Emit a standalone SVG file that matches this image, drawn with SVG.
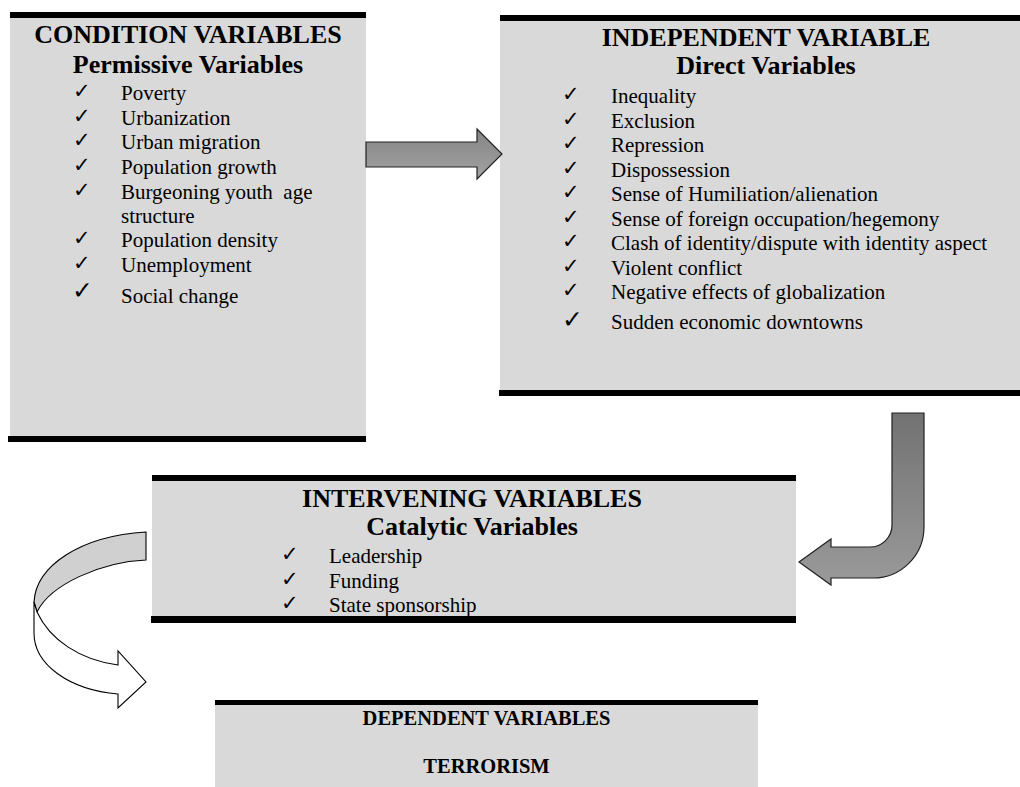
<svg xmlns="http://www.w3.org/2000/svg" width="1020" height="787" viewBox="0 0 1020 787">
<defs>
<style>
.box{fill:#d9d9d9}
.bar{fill:#000}
.t{font-family:"Liberation Serif","Times New Roman",serif;font-weight:bold;font-size:26px;fill:#000;text-anchor:middle}
.td{font-family:"Liberation Serif","Times New Roman",serif;font-weight:bold;font-size:20.5px;fill:#000;text-anchor:middle}
.i{font-family:"Liberation Serif","Times New Roman",serif;font-size:21px;fill:#000}
.ck{font-family:"DejaVu Sans",sans-serif;font-size:21px;fill:#000}
.ckb{font-family:"DejaVu Sans",sans-serif;font-size:25px;fill:#000}
.arr{stroke:#222;stroke-width:1.2;stroke-linejoin:miter}
.rib{stroke:#000;stroke-width:1.1;stroke-linejoin:miter}
</style>
<linearGradient id="g1" x1="0" y1="0" x2="0" y2="1">
<stop offset="0" stop-color="#858585"/>
<stop offset="1" stop-color="#a2a2a2"/>
</linearGradient>
<linearGradient id="g2" x1="0" y1="0" x2="0" y2="1">
<stop offset="0" stop-color="#727272"/>
<stop offset="1" stop-color="#9a9a9a"/>
</linearGradient>
</defs>
<rect width="1020" height="787" fill="#fff"/>

<g id="node-condition">
<rect class="box" x="10" y="18" width="356" height="418"/>
<rect class="bar" x="10" y="12" width="356" height="6"/>
<rect class="bar" x="8" y="436" width="358" height="6"/>
<text class="t" x="188" y="43">CONDITION VARIABLES</text>
<text class="t" x="188" y="73">Permissive Variables</text>
<text class="ck" x="73" y="98">✓</text><text class="i" x="121" y="100">Poverty</text>
<text class="ck" x="73" y="122.5">✓</text><text class="i" x="121" y="124.5">Urbanization</text>
<text class="ck" x="73" y="147">✓</text><text class="i" x="121" y="149">Urban migration</text>
<text class="ck" x="73" y="171.5">✓</text><text class="i" x="121" y="173.5">Population growth</text>
<text class="ck" x="73" y="196.5">✓</text><text class="i" x="121" y="198.5" xml:space="preserve">Burgeoning youth  age</text>
<text class="i" x="121" y="222.5">structure</text>
<text class="ck" x="73" y="245">✓</text><text class="i" x="121" y="247">Population density</text>
<text class="ck" x="73" y="270">✓</text><text class="i" x="121" y="272">Unemployment</text>
<text class="ckb" x="72" y="299">✓</text><text class="i" x="121" y="302.5">Social change</text>
</g>

<g id="node-independent">
<rect class="box" x="500" y="21" width="520" height="369"/>
<rect class="bar" x="500" y="15" width="520" height="6"/>
<rect class="bar" x="499" y="390" width="521" height="6"/>
<text class="t" x="766" y="46">INDEPENDENT VARIABLE</text>
<text class="t" x="766" y="73.5">Direct Variables</text>
<text class="ck" x="562" y="101">✓</text><text class="i" x="611" y="103">Inequality</text>
<text class="ck" x="562" y="125.5">✓</text><text class="i" x="611" y="127.5">Exclusion</text>
<text class="ck" x="562" y="150">✓</text><text class="i" x="611" y="152">Repression</text>
<text class="ck" x="562" y="174.5">✓</text><text class="i" x="611" y="176.5">Dispossession</text>
<text class="ck" x="562" y="199">✓</text><text class="i" x="611" y="201">Sense of Humiliation/alienation</text>
<text class="ck" x="562" y="223.5">✓</text><text class="i" x="611" y="225.5">Sense of foreign occupation/hegemony</text>
<text class="ck" x="562" y="248">✓</text><text class="i" x="611" y="250">Clash of identity/dispute with identity aspect</text>
<text class="ck" x="562" y="272.5">✓</text><text class="i" x="611" y="274.5">Violent conflict</text>
<text class="ck" x="562" y="296.5">✓</text><text class="i" x="611" y="298.5">Negative effects of globalization</text>
<text class="ckb" x="562" y="328">✓</text><text class="i" x="611" y="329">Sudden economic downtowns</text>
</g>

<g id="node-intervening">
<rect class="box" x="152" y="481" width="644" height="135"/>
<rect class="bar" x="152" y="475" width="644" height="6"/>
<rect class="bar" x="151" y="616" width="645" height="7"/>
<text class="t" x="472" y="507">INTERVENING VARIABLES</text>
<text class="t" x="472" y="535">Catalytic Variables</text>
<text class="ck" x="281" y="561">✓</text><text class="i" x="329" y="563">Leadership</text>
<text class="ck" x="281" y="586">✓</text><text class="i" x="329" y="588">Funding</text>
<text class="ck" x="281" y="610">✓</text><text class="i" x="329" y="612">State sponsorship</text>
</g>

<g id="node-dependent">
<rect class="box" x="215" y="705" width="543" height="82"/>
<rect class="bar" x="215" y="700" width="543" height="5"/>
<text class="td" x="486.5" y="725">DEPENDENT VARIABLES</text>
<text class="td" x="486.5" y="773">TERRORISM</text>
</g>

<g id="connectors">
<path class="arr" fill="url(#g1)" d="M366,142 L477,142 L477,129 L502,154 L477,179 L477,167 L366,167 Z"/>
<path class="arr" fill="url(#g2)" d="M892,413 L924,413 L924,527 A51,51 0 0 1 873,578 L831,578 L831,585 L799,562 L831,539 L831,547 L870,547 A22,22 0 0 0 892,525 Z"/>
<path class="rib" fill="#d0d0d0" d="M146,532 C80,536 36,566 34,602 L37,612 C50,585 100,562 146,560 Z"/>
<path class="rib" fill="#fff" d="M37,612 C50,640 80,660 118,665 L118,651 L146,682 L118,708 L118,694 C70,690 34,665 34,633 L34,602 Z"/>
</g>
</svg>
